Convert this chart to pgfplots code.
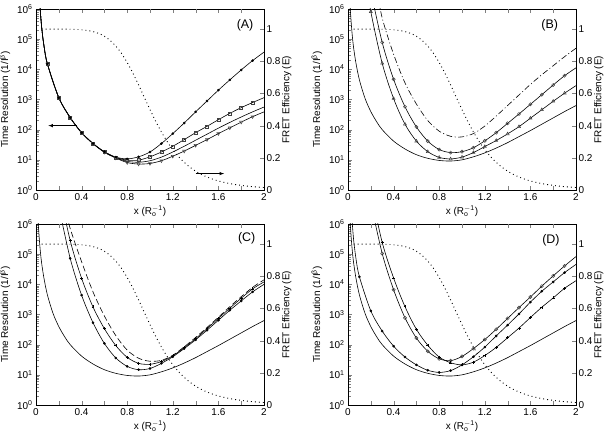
\documentclass[border=0pt]{standalone}
\usepackage{fontspec}
\setmainfont{Liberation Sans}
\usepackage{pgfplots}
\usepackage{pgfplotstable}
\pgfplotsset{compat=1.18}

% FRET efficiency (dotted, right axis)
\pgfplotstableread{
x E
0.05 1.0000
0.10 1.0000
0.15 1.0000
0.20 0.9999
0.25 0.9998
0.30 0.9993
0.35 0.9982
0.40 0.9959
0.45 0.9918
0.50 0.9846
0.55 0.9731
0.60 0.9554
0.65 0.9299
0.70 0.8947
0.75 0.8489
0.80 0.7923
0.85 0.7261
0.90 0.6530
0.95 0.5763
1.00 0.5000
1.05 0.4273
1.10 0.3608
1.15 0.3018
1.20 0.2509
1.25 0.2077
1.30 0.1716
1.35 0.1418
1.40 0.1172
1.45 0.0971
1.50 0.0807
1.55 0.0673
1.60 0.0563
1.65 0.0472
1.70 0.0398
1.75 0.0336
1.80 0.0286
1.85 0.0243
1.90 0.0208
1.95 0.0179
2.00 0.0154
}\tE

% L = log10 of time resolution
% ---- Panel A
\pgfplotstableread{
x L
0.03 6.3
0.05 5.38
0.07 4.78
0.1 4.18
0.2 3.06
0.3 2.40
0.4 1.90
0.5 1.54
0.6 1.27
0.7 1.09
0.8 1.03
0.9 1.10
1.0 1.26
1.1 1.54
1.2 1.87
1.3 2.22
1.4 2.59
1.5 2.95
1.6 3.31
1.7 3.65
1.8 3.98
1.9 4.29
2.0 4.57
}\tAdot
\pgfplotstableread{
x L
0.03 6.3
0.05 5.38
0.07 4.78
0.1 4.18
0.2 3.06
0.3 2.40
0.4 1.90
0.5 1.54
0.6 1.26
0.7 1.08
0.8 0.99
0.9 0.99
1.0 1.10
1.1 1.26
1.2 1.45
1.3 1.67
1.4 1.90
1.5 2.11
1.6 2.33
1.7 2.54
1.8 2.73
1.9 2.90
2.0 3.06
}\tAsq
\pgfplotstableread{
x L
0.03 6.3
0.05 5.38
0.07 4.78
0.1 4.18
0.2 3.06
0.3 2.40
0.4 1.90
0.5 1.54
0.6 1.26
0.7 1.07
0.8 0.95
0.9 0.92
1.0 0.97
1.1 1.09
1.2 1.26
1.3 1.45
1.4 1.65
1.5 1.85
1.6 2.05
1.7 2.24
1.8 2.42
1.9 2.59
2.0 2.75
}\tApl
\pgfplotstableread{
x L
0.03 6.3
0.05 5.38
0.07 4.78
0.1 4.18
0.2 3.06
0.3 2.40
0.4 1.90
0.5 1.54
0.6 1.25
0.7 1.06
0.8 0.91
0.9 0.86
1.0 0.88
1.1 0.97
1.2 1.12
1.3 1.29
1.4 1.48
1.5 1.67
1.6 1.87
1.7 2.06
1.8 2.25
1.9 2.43
2.0 2.59
}\tAtr

% ---- baseline solid curve (B, C, D)
\pgfplotstableread{
x L
0.018 6.1
0.03 5.45
0.04 5.02
0.05 4.69
0.07 4.20
0.1 3.65
0.15 3.03
0.2 2.60
0.25 2.27
0.3 2.00
0.4 1.62
0.5 1.36
0.6 1.17
0.7 1.05
0.8 0.98
0.9 0.96
1.0 1.00
1.1 1.10
1.2 1.23
1.3 1.39
1.4 1.57
1.5 1.77
1.6 1.97
1.7 2.18
1.8 2.39
1.9 2.60
2.0 2.80
}\tBase

% ---- Panel B
\pgfplotstableread{
x L
0.15 7.1
0.2 5.91
0.3 4.20
0.4 3.03
0.5 2.18
0.6 1.62
0.7 1.27
0.8 1.08
0.9 1.03
1.0 1.09
1.1 1.24
1.2 1.44
1.3 1.64
1.4 1.86
1.5 2.10
1.6 2.38
1.7 2.66
1.8 2.94
1.9 3.21
2.0 3.46
}\tBtri
\pgfplotstableread{
x L
0.2 6.6
0.3 4.89
0.4 3.67
0.5 2.76
0.6 2.09
0.7 1.62
0.8 1.34
0.9 1.24
1.0 1.27
1.1 1.40
1.2 1.63
1.3 1.90
1.4 2.21
1.5 2.52
1.6 2.84
1.7 3.16
1.8 3.48
1.9 3.79
2.0 4.05
}\tBcir
\pgfplotstableread{
x L
0.25 6.7
0.3 5.7
0.4 4.5
0.5 3.55
0.6 2.85
0.7 2.30
0.8 1.95
0.9 1.78
1.0 1.76
1.1 1.87
1.2 2.12
1.3 2.45
1.4 2.80
1.5 3.15
1.6 3.50
1.7 3.82
1.8 4.12
1.9 4.42
2.0 4.70
}\tBdd

% ---- Panel C
\pgfplotstableread{
x L
0.2 6.58
0.3 4.86
0.4 3.64
0.5 2.73
0.6 2.04
0.7 1.56
0.8 1.28
0.9 1.17
1.0 1.21
1.1 1.38
1.2 1.60
1.3 1.87
1.4 2.16
1.5 2.48
1.6 2.81
1.7 3.14
1.8 3.45
1.9 3.75
2.0 4.00
}\tCdot
\pgfplotstableread{
x L
0.2 7.2
0.3 5.45
0.4 4.20
0.5 3.25
0.6 2.53
0.7 1.97
0.8 1.58
0.9 1.38
1.0 1.35
1.1 1.44
1.2 1.63
1.3 1.90
1.4 2.20
1.5 2.53
1.6 2.87
1.7 3.21
1.8 3.54
1.9 3.85
2.0 4.08
}\tCplus
\pgfplotstableread{
x L
0.25 6.6
0.3 5.85
0.4 4.75
0.5 3.75
0.6 2.95
0.7 2.30
0.8 1.82
0.9 1.55
1.0 1.45
1.1 1.48
1.2 1.65
1.3 1.93
1.4 2.24
1.5 2.57
1.6 2.91
1.7 3.26
1.8 3.59
1.9 3.90
2.0 4.15
}\tCdash

% ---- Panel D
\pgfplotstableread{
x L
0.03 6.4
0.04 5.9
0.05 5.45
0.07 4.85
0.1 4.25
0.2 3.12
0.3 2.45
0.4 1.95
0.5 1.59
0.6 1.33
0.7 1.15
0.8 1.08
0.9 1.14
1.0 1.33
1.1 1.60
1.2 1.92
1.3 2.29
1.4 2.65
1.5 3.02
1.6 3.41
1.7 3.77
1.8 4.08
1.9 4.39
2.0 4.66
}\tDdot
\pgfplotstableread{
x L
0.2 6.71
0.3 5.02
0.4 3.82
0.5 2.89
0.6 2.22
0.7 1.78
0.8 1.53
0.9 1.47
1.0 1.61
1.1 1.87
1.2 2.17
1.3 2.51
1.4 2.87
1.5 3.23
1.6 3.58
1.7 3.94
1.8 4.28
1.9 4.61
2.0 4.92
}\tDcir
\pgfplotstableread{
x L
0.2 7.1
0.3 5.39
0.4 4.21
0.5 3.26
0.6 2.51
0.7 1.98
0.8 1.59
0.9 1.40
1.0 1.33
1.1 1.42
1.2 1.64
1.3 1.91
1.4 2.23
1.5 2.55
1.6 2.90
1.7 3.24
1.8 3.55
1.9 3.87
2.0 4.12
}\tDplus

\pgfplotsset{
  myBaseAx/.style={scale only axis, width=228bp, height=181bp, xmin=0, xmax=2,
    font=\fontsize{10}{12}\selectfont, tick align=inside},
  myEAx/.style={myBaseAx, ymin=0, ymax=1.125, hide x axis, axis y line*=right,
    tick align=inside,
    ytick={0,0.2,0.4,0.6,0.8,1}, yticklabels={0,0.2,0.4,0.6,0.8,1},
    yticklabel style={xshift=-1pt},
    ylabel={FRET Efficiency (E)}, ylabel shift=-5pt},
  myTAx/.style={myBaseAx, ymin=1, ymax=1e6,
    ytick={1,10,100,1000,10000,100000,1000000},
    yticklabels={10\textsuperscript{0},10\textsuperscript{1},10\textsuperscript{2},10\textsuperscript{3},10\textsuperscript{4},10\textsuperscript{5},10\textsuperscript{6}},
    minor ytick={2,3,4,5,6,7,8,9,20,30,40,50,60,70,80,90,200,300,400,500,600,700,800,900,2000,3000,4000,5000,6000,7000,8000,9000,20000,30000,40000,50000,60000,70000,80000,90000,200000,300000,400000,500000,600000,700000,800000,900000},
    xtick={0,0.4,0.8,1.2,1.6,2}, xticklabels={0,0.4,0.8,1.2,1.6,2},
    extra x ticks={0.2,0.6,1.0,1.4,1.8}, extra x tick labels={},
    xtick pos=both, ytick pos=left,
    xlabel={x ($\mathrm{R_o^{-1}}$)}, xlabel shift=-2pt,
    ylabel={Time Resolution (1/I\textsuperscript{β})}},
}
\tikzset{
  myLn/.style={black, line width=0.6pt, smooth, mark=none},
  myEdot/.style={black, line width=0.9pt, smooth, dash pattern=on 0.9pt off 3.1pt},
  myMdot/.style={mark=*, mark size=1.1pt, mark options={fill=black, draw=black}},
  myMsq/.style={mark=square, mark size=1.5pt, mark options={draw=black!75, line width=0.5pt}},
  myMtd/.style={mark=triangle, mark size=1.8pt, mark options={rotate=180, draw=black!75, line width=0.5pt}},
  myMtu/.style={mark=triangle, mark size=1.8pt, mark options={draw=black!75, line width=0.5pt}},
  myMcir/.style={mark=o, mark size=1.6pt, mark options={draw=black!75, line width=0.5pt}},
  myMplus/.style={mark=+, mark size=1.5pt, mark options={draw=black, line width=0.5pt}},
  myPlab/.style={font=\fontsize{12.5}{14}\selectfont},
}
\newcommand{\crv}[2]{\addplot[myLn,#2] table[x=x,y expr=10^(\thisrow{L})] {#1};}
\newcommand{\mk}[3]{\addplot[only marks,#2,restrict x to domain=#3] table[x=x,y expr=10^(\thisrow{L})] {#1};}

\begin{document}
\begin{tikzpicture}
\useasboundingbox (0,0) rectangle (606bp,432bp);

% ================= Panel A
\begin{axis}[myEAx, at={(36bp,242bp)}, anchor=south west]
  \addplot[myEdot] table[x=x,y=E] {\tE};
\end{axis}
\begin{semilogyaxis}[myTAx, at={(36bp,242bp)}, anchor=south west]
  \crv{\tAdot}{}
  \crv{\tAsq}{}
  \crv{\tApl}{}
  \crv{\tAtr}{}
  \mk{\tAsq}{myMsq}{0.09:1.95}
  \mk{\tAtr}{myMtd}{0.09:1.95}
  \mk{\tAdot}{myMdot}{0.09:1.95}
  \draw[-latex, line width=0.6pt] (axis cs:0.357,136) -- (axis cs:0.108,136);
  \draw[-latex, line width=0.6pt] (axis cs:1.40,3.5) -- (axis cs:1.65,3.5);
  \node[myPlab] at (rel axis cs:0.917,0.91) {(A)};
\end{semilogyaxis}

% ================= Panel B
\begin{axis}[myEAx, at={(348bp,242bp)}, anchor=south west]
  \addplot[myEdot] table[x=x,y=E] {\tE};
\end{axis}
\begin{semilogyaxis}[myTAx, at={(348bp,242bp)}, anchor=south west]
  \crv{\tBase}{}
  \crv{\tBtri}{}
  \crv{\tBcir}{}
  \crv{\tBdd}{dash pattern=on 6pt off 2.5pt on 1pt off 2.5pt}
  \mk{\tBtri}{myMtu}{0.19:1.95}
  \mk{\tBcir}{myMcir}{0.29:1.95}
  \node[myPlab] at (rel axis cs:0.885,0.91) {(B)};
\end{semilogyaxis}

% ================= Panel C
\begin{axis}[myEAx, at={(36bp,27bp)}, anchor=south west]
  \addplot[myEdot] table[x=x,y=E] {\tE};
\end{axis}
\begin{semilogyaxis}[myTAx, at={(36bp,27bp)}, anchor=south west]
  \crv{\tBase}{}
  \crv{\tCdot}{}
  \crv{\tCplus}{}
  \crv{\tCdash}{dash pattern=on 6pt off 3pt}
  \mk{\tCdot}{myMdot}{0.29:1.95}
  \mk{\tCplus}{myMplus}{0.29:1.95}
  \node[myPlab] at (rel axis cs:0.924,0.92) {(C)};
\end{semilogyaxis}

% ================= Panel D
\begin{axis}[myEAx, at={(348bp,27bp)}, anchor=south west]
  \addplot[myEdot] table[x=x,y=E] {\tE};
\end{axis}
\begin{semilogyaxis}[myTAx, at={(348bp,27bp)}, anchor=south west]
  \crv{\tBase}{}
  \crv{\tDdot}{}
  \crv{\tDcir}{}
  \crv{\tDplus}{}
  \mk{\tDdot}{myMdot}{0.09:1.95}
  \mk{\tDcir}{myMcir}{0.29:1.95}
  \mk{\tDplus}{myMplus}{0.29:1.95}
  \node[myPlab] at (rel axis cs:0.89,0.91) {(D)};
\end{semilogyaxis}
\end{tikzpicture}
\end{document}
